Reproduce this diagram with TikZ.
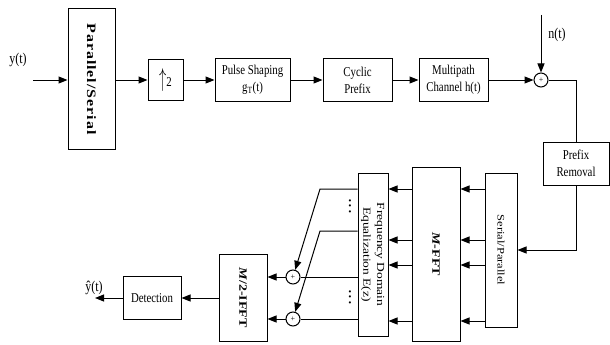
\documentclass[tikz,border=0pt]{standalone}
\usepackage{fontspec}
\usepackage{graphicx}
\setmainfont{Liberation Serif}
\newfontfamily\narrowfont[FakeStretch=0.8]{Liberation Serif}
\newfontfamily\spacedfont[LetterSpace=6]{Liberation Serif}
\usetikzlibrary{arrows.meta,positioning}

\newcommand{\vlabel}[1]{\rotatebox{-90}{\scalebox{1}[0.8]{\rmfamily #1}}}

\begin{document}
\begin{tikzpicture}[x=1pt, y=-1pt, line width=1pt,
    box/.style={draw, inner sep=0pt, align=center,
      font=\narrowfont\fontsize{13.5}{17}\selectfont},
    adder/.style={circle, draw, minimum size=14pt, inner sep=0pt,
      font=\footnotesize},
    lbl/.style={font=\narrowfont\fontsize{15}{15}\selectfont},
    dots/.style={inner sep=0pt, rotate=90, font=\bfseries\fontsize{13}{13}\selectfont},
    arr/.style={-{Triangle[length=9pt,width=7pt]}}]
    \useasboundingbox (0,0) rectangle (610,345);

    % transmitter and channel
    \node[lbl] (ylbl) at (18,60) {y(t)};
    \coordinate (yin) at (33,80);
    \node[box, minimum width=47pt, minimum height=141pt] (ps) at (91.5,79)
      {\vlabel{\spacedfont\fontsize{16}{16}\selectfont\bfseries Parallel/Serial}};
    \node[box, minimum width=35pt, minimum height=40pt] (up) at (165.5,80)
      {\scalebox{1}[1.8]{$\uparrow$}2};
    \node[box, minimum width=75pt, minimum height=43pt] (pulse) at (252.5,80)
      {Pulse Shaping\\g\textsubscript{T}(t)};
    \node[box, minimum width=69pt, minimum height=42pt] (cp) at (357.5,80)
      {Cyclic\\Prefix};
    \node[box, minimum width=69pt, minimum height=43pt] (mc) at (453.5,80)
      {Multipath\\Channel h(t)};
    \node[adder] (a1) at (541,80) {+};
    \coordinate (nin) at (541,15);
    \node[lbl] (nlbl) at (557,35) {n(t)};
    \node[box, minimum width=66pt, minimum height=43pt] (pr) at (576,163.5)
      {Prefix\\Removal};

    % receiver
    \node[box, minimum width=32pt, minimum height=154pt] (sp) at (501,250)
      {\vlabel{\fontsize{12.5}{12.5}\selectfont Serial/Parallel}};
    \node[box, minimum width=48pt, minimum height=174pt] (fft) at (436,254)
      {\vlabel{\fontsize{14}{14}\selectfont\bfseries\textit{M}-FFT}};
    \node[box, minimum width=30pt, minimum height=163pt] (fde) at (373,254.5)
      {\vlabel{\fontsize{13.5}{17}\selectfont\begin{tabular}{@{}c@{}}Frequency Domain\\Equalization E(z)\end{tabular}}};
    \node[dots] (d1) at (350,206) {.\,.\,.};
    \node[dots] (d2) at (350,297) {.\,.\,.};
    \node[adder] (a2) at (293,277) {+};
    \node[adder] (a3) at (293,319) {+};
    \node[box, minimum width=48pt, minimum height=87pt] (ifft) at (243,297.5)
      {\vlabel{\fontsize{14}{14}\selectfont\bfseries\textit{M}/2-IFFT}};
    \node[box, minimum width=58pt, minimum height=43pt] (det) at (152,298)
      {Detection};
    \coordinate (yout) at (95,298);
    \node[lbl] (yhlbl) at (94,288) {ŷ(t)};

    \draw[arr] (yin) -- (ps.west |- yin);
    \draw[arr] (ps.east |- up) -- (up);
    \draw[arr] (up) -- (pulse);
    \draw[arr] (pulse) -- (cp);
    \draw[arr] (cp) -- (mc);
    \draw[arr] (mc) -- (a1);
    \draw[arr] (nin) -- (a1);
    \draw (a1) -| (pr);
    \draw[arr] (pr) |- (sp);

    \foreach \yy [count=\i] in {189,240,265,321} {
      \coordinate (row\i) at (0,\yy);
      \draw[arr] (sp.west |- row\i) -- (fft.east |- row\i);
      \draw[arr] (fft.west |- row\i) -- (fde.east |- row\i);
    }

    \coordinate (k1) at (320,189);
    \coordinate (k2) at (320,231);
    \draw[arr] (fde.west |- k1) -- (k1) -- (a2);
    \draw[arr] (fde.west |- k2) -- (k2) -- (a3);
    \draw (fde.west |- a2) -- (a2);
    \draw (fde.west |- a3) -- (a3);
    \draw[arr] (a2) -- (ifft.east |- a2);
    \draw[arr] (a3) -- (ifft.east |- a3);
    \draw[arr] (ifft.west |- det) -- (det);
    \draw[arr] (det) -- (yout);
\end{tikzpicture}
\end{document}
